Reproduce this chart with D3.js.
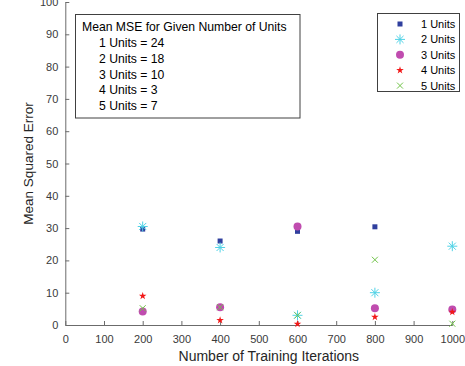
<!DOCTYPE html>
<meta charset="utf-8">
<style>
body { margin: 0; background: #fff; }
svg { font-family: "Liberation Sans", Arial, sans-serif; }
.axis path, .axis line { stroke: #6b6b6b; }
.axis text { fill: #3a3a3a; font-size: 11px; }
</style>
<svg width="465" height="366"></svg>
<script src="https://d3js.org/d3.v7.min.js"></script>
<script>

// training iterations
var iterations = [200, 400, 600, 800, 1000];

// MSE per number of units
var units1 = [29.7, 26, 29, 30.4, 5];
var units2 = [30.5, 24, 3, 10, 24.4];
var units3 = [4.2, 5.5, 30.5, 5.2, 4.8];
var units4 = [9, 1.5, 0.3, 2.5, 4];
var units5 = [5.2, 5.5, 3, 20.2, 0.4];

var seriesNames = ["1 Units", "2 Units", "3 Units", "4 Units", "5 Units"];
var meanLines = ["1 Units = 24", "2 Units = 18", "3 Units = 10", "4 Units = 3", "5 Units = 7"];

var xTicks = d3.range(0, 1001, 100);
var yTicks = d3.range(0, 101, 10);

var svg = d3.select("svg");

var x = d3.scaleLinear().domain([0, 1000]).range([65.3, 452.3]);
var y = d3.scaleLinear().domain([0, 100]).range([325, 2]);

var series = [
  {name: seriesNames[0], values: units1, symbol: "square", color: "#2f3f9e"},
  {name: seriesNames[1], values: units2, symbol: "asterisk", color: "#4fd2e6"},
  {name: seriesNames[2], values: units3, symbol: "circle", color: "#c04caf"},
  {name: seriesNames[3], values: units4, symbol: "star", color: "#f21818"},
  {name: seriesNames[4], values: units5, symbol: "cross", color: "#72c44a"}
];

function drawMarker(g, s) {
  if (s.symbol == "square") {
    g.append("rect").attr("x", -2.5).attr("y", -2.5).attr("width", 5).attr("height", 5)
      .attr("fill", s.color);
  } else if (s.symbol == "circle") {
    g.append("circle").attr("r", 4).attr("fill", s.color);
  } else if (s.symbol == "star") {
    g.append("path").attr("d", d3.symbol().type(d3.symbolStar).size(18)()).attr("fill", s.color);
  } else if (s.symbol == "asterisk") {
    var r = 5;
    [0, 45, 90, 135].forEach(function(a) {
      var rad = a * Math.PI / 180;
      g.append("line")
        .attr("x1", -r * Math.cos(rad)).attr("y1", -r * Math.sin(rad))
        .attr("x2", r * Math.cos(rad)).attr("y2", r * Math.sin(rad))
        .attr("stroke", s.color).attr("stroke-width", 1);
    });
  } else if (s.symbol == "cross") {
    var c = 3;
    g.append("path").attr("d", "M" + -c + "," + -c + "L" + c + "," + c + "M" + -c + "," + c + "L" + c + "," + -c)
      .attr("stroke", s.color).attr("stroke-width", 1).attr("fill", "none");
  }
}

// axes
svg.append("g")
    .attr("class", "axis")
    .attr("transform", "translate(0," + y(0) + ")")
    .call(d3.axisBottom(x).tickValues(xTicks).tickFormat(d3.format("d"))
      .tickSizeInner(-4).tickSizeOuter(0).tickPadding(8))
    .selectAll("text").attr("dy", "0.9em");

svg.append("g")
    .attr("class", "axis")
    .attr("transform", "translate(" + x(0) + ",0)")
    .call(d3.axisLeft(y).tickValues(yTicks).tickSizeInner(-4).tickSizeOuter(0).tickPadding(7));

svg.append("text")
    .attr("x", (x(0) + x(1000)) / 2 + 10)
    .attr("y", 361)
    .attr("text-anchor", "middle")
    .attr("font-size", 14)
    .attr("fill", "#262626")
    .text("Number of Training Iterations");

svg.append("text")
    .attr("transform", "translate(33," + (y(0) + y(100)) / 2 + ") rotate(-90)")
    .attr("text-anchor", "middle")
    .attr("font-size", 13.5)
    .attr("fill", "#262626")
    .text("Mean Squared Error");

// points
series.forEach(function(s) {
  s.values.forEach(function(v, i) {
    var g = svg.append("g").attr("transform", "translate(" + x(iterations[i]) + "," + y(v) + ")");
    drawMarker(g, s);
  });
});

// annotation box
var ann = svg.append("g");
ann.append("rect")
    .attr("x", 75.5).attr("y", 14.5).attr("width", 224.5).attr("height", 103.5)
    .attr("fill", "#fff").attr("stroke", "#404040").attr("stroke-width", 1);
ann.append("text")
    .attr("x", 82).attr("y", 31)
    .attr("font-size", 12.2).attr("fill", "#000")
    .text("Mean MSE for Given Number of Units");
meanLines.forEach(function(t, i) {
  ann.append("text")
      .attr("x", 99).attr("y", 47 + i * 15.8)
      .attr("font-size", 12.2).attr("fill", "#000")
      .text(t);
});

// legend
var leg = svg.append("g");
leg.append("rect")
    .attr("x", 377.5).attr("y", 13.5).attr("width", 82).attr("height", 78)
    .attr("fill", "#fff").attr("stroke", "#404040").attr("stroke-width", 1);
series.forEach(function(s, i) {
  var cy = 24 + i * 15.4;
  var g = leg.append("g").attr("transform", "translate(400," + cy + ")");
  drawMarker(g, s);
  leg.append("text")
      .attr("x", 421).attr("y", cy + 4)
      .attr("font-size", 11).attr("fill", "#000")
      .text(s.name);
});

</script>
